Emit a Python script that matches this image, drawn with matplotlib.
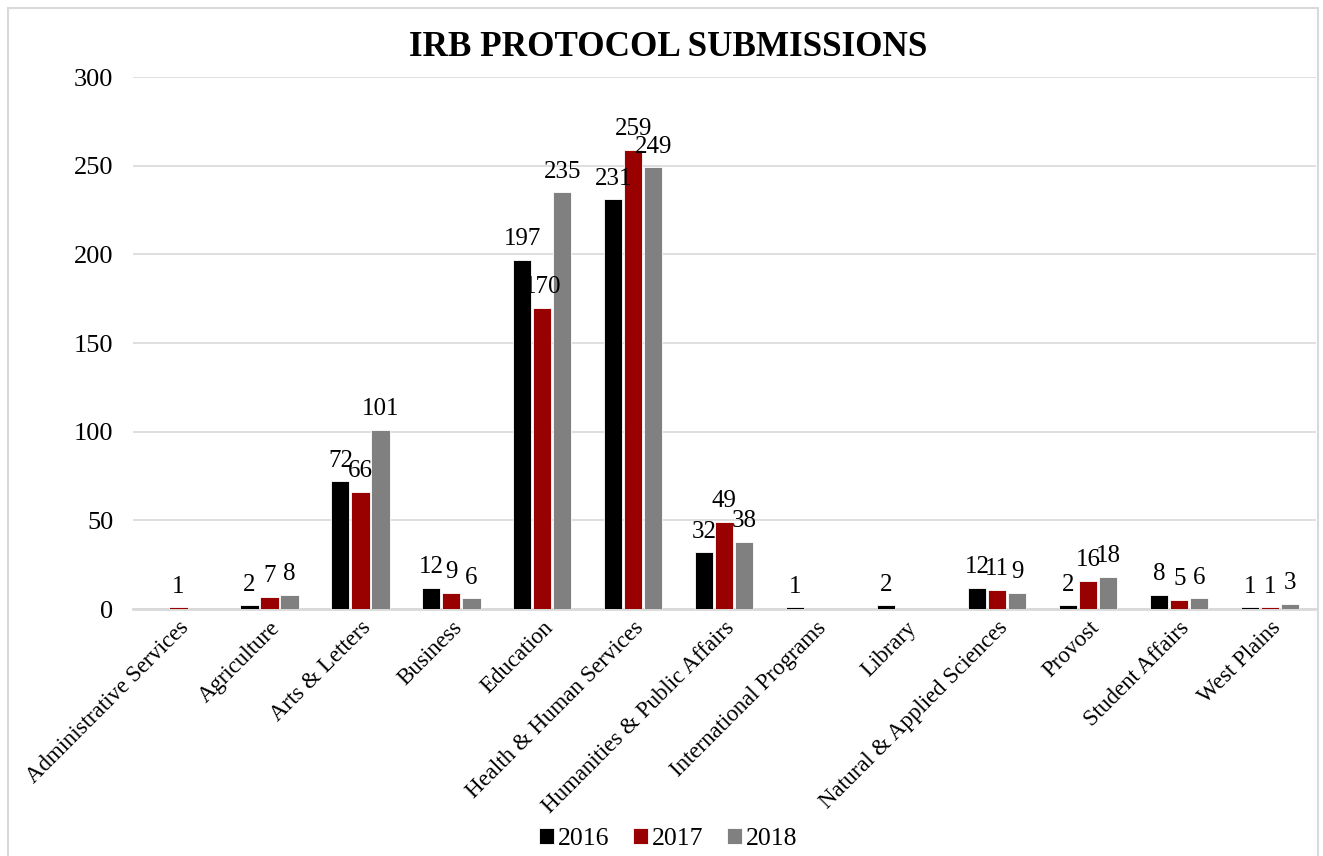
import numpy as np
import matplotlib
matplotlib.use("Agg")
import matplotlib.pyplot as plt
from matplotlib.patches import Rectangle

categories = [
    "Administrative Services", "Agriculture", "Arts & Letters", "Business",
    "Education", "Health & Human Services", "Humanities & Public Affairs",
    "International Programs", "Library", "Natural & Applied Sciences",
    "Provost", "Student Affairs", "West Plains",
]
years = ["2016", "2017", "2018"]
values_2016 = [0, 2, 72, 12, 197, 231, 32, 1, 2, 12, 2, 8, 1]
values_2017 = [1, 7, 66, 9, 170, 259, 49, 0, 0, 11, 16, 5, 1]
values_2018 = [0, 8, 101, 6, 235, 249, 38, 0, 0, 9, 18, 6, 3]
colors = ["#000000", "#990000", "#808080"]
y_ticks = [0, 50, 100, 150, 200, 250, 300]

plt.rcParams["font.family"] = ["Liberation Serif", "DejaVu Serif"]

fig = plt.figure(figsize=(13.23, 8.56), dpi=100)
ax = fig.add_axes([0.1005, 0.2885, 0.894, 0.6215])

x = np.arange(len(categories))
width = 0.2
step = 0.22
series = [values_2016, values_2017, values_2018]
for i, (vals, col, yr) in enumerate(zip(series, colors, years)):
    pos = x + (i - 1) * step
    bars = ax.bar(pos, vals, width, color=col, label=yr, edgecolor="white",
                  linewidth=0.6, zorder=3)
    for b, v in zip(bars, vals):
        if v > 0:
            ax.text(b.get_x() + b.get_width() / 2, v + 5.5, str(v),
                    ha="center", va="bottom", fontsize=18, zorder=4)

ax.set_xlim(-0.5, len(categories) - 0.5)
ax.set_ylim(0, 300)
ax.set_yticks(y_ticks)
ax.tick_params(axis="y", length=0, labelsize=19, pad=14)
ax.tick_params(axis="x", length=0, labelsize=16.5, pad=6)
ax.set_xticks(x)
ax.set_xticklabels(categories, rotation=45, ha="right", rotation_mode="anchor")
ax.grid(axis="y", color="#d9d9d9", linewidth=1.2, zorder=0)
for s in ["top", "right", "left"]:
    ax.spines[s].set_visible(False)
ax.spines["bottom"].set_color("#d9d9d9")
ax.spines["bottom"].set_linewidth(2)
ax.spines["bottom"].set_zorder(2)

fig.text(0.505, 0.945, "IRB PROTOCOL SUBMISSIONS", ha="center", va="center",
         fontsize=25.3, fontweight="bold")

fig.legend(loc="lower center", bbox_to_anchor=(0.505, -0.02), ncol=3,
           frameon=False, fontsize=18.5, handlelength=0.6, handleheight=0.6,
           handletextpad=0.15, columnspacing=0.9)

fig.patches.append(Rectangle((8 / 1323, -0.01), 1310 / 1323, 1 - 8 / 856 + 0.01,
                             transform=fig.transFigure, fill=False,
                             edgecolor="#d9d9d9", linewidth=1.5))

fig.savefig("out.png", dpi=100)
